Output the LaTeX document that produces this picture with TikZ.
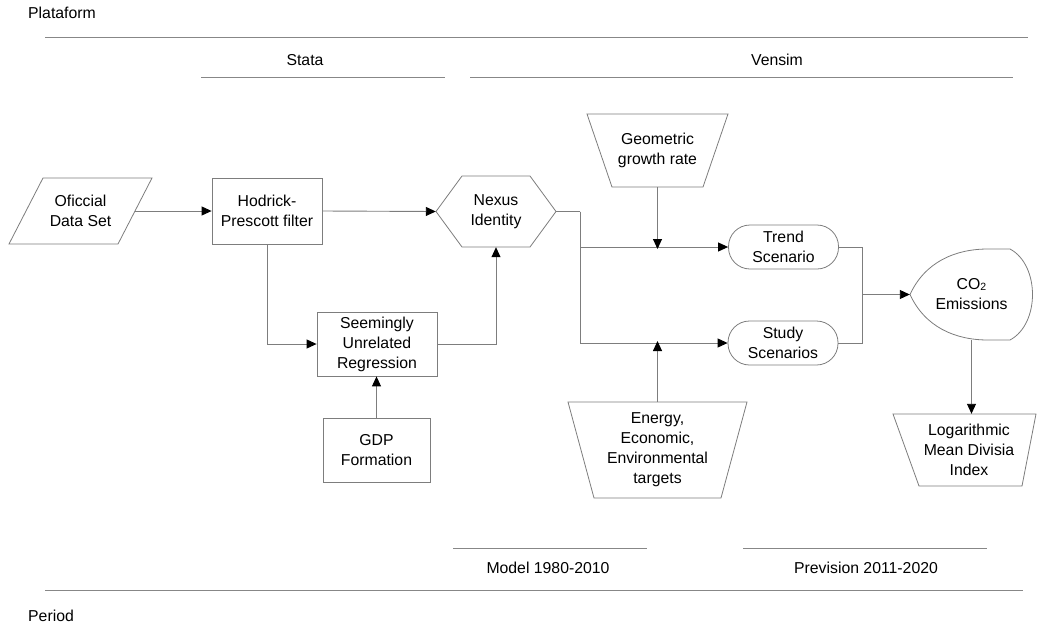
\documentclass[tikz,border=0pt]{standalone}
\usepackage{fontspec}
\setmainfont{Liberation Sans}
\usetikzlibrary{arrows.meta,calc}
\definecolor{linegray}{RGB}{125,125,125}
\definecolor{sectgray}{RGB}{135,135,135}
\begin{document}
\begin{tikzpicture}[x=1pt,y=-1pt,
  shapeline/.style={draw=linegray, line width=0.8pt},
  conn/.style={draw=linegray, line width=0.9pt},
  arr/.style={conn,-{Triangle[length=10pt,width=9pt,color=black]}},
  box/.style={inner sep=0pt, align=center, font=\fontsize{15.8}{20}\selectfont},
  rectbox/.style={box, shapeline},
  stadium/.style={box, shapeline, rounded corners=21.5pt},
  lbl/.style={inner sep=0pt, font=\fontsize{15.8}{20}\selectfont},
  sect/.style={draw=sectgray, line width=1pt}
]
\useasboundingbox (0,0) rectangle (1037,627);

% header / footer
\node[lbl, anchor=west] (plat) at (28,13) {Plataform};
\draw[sect] (45,37) -- (1028,37);
\node[lbl] (stata) at (305,60) {Stata};
\draw[sect] (201,77) -- (445,77);
\node[lbl] (vensim) at (777,60) {Vensim};
\draw[sect] (470,77) -- (1013,77);
\draw[sect] (453,548) -- (647,548);
\node[lbl] (model) at (548,568) {Model 1980-2010};
\draw[sect] (743,548) -- (987,548);
\node[lbl] (prev) at (866,568) {Prevision 2011-2020};
\draw[sect] (45,590) -- (1023,590);
\node[lbl, anchor=west] (period) at (28,616) {Period};

% nodes
\node[box, minimum width=143pt, minimum height=66pt] (ofi) at (80.5,211) {Oficcial\\Data Set};
\draw[shapeline] (43,178) -- (152,178) -- (118,244) -- (9,244) -- cycle;

\node[rectbox, minimum width=110pt, minimum height=66pt] (hp) at (267,211) {Hodrick-\\Prescott filter};

\node[box, minimum width=120pt, minimum height=71pt] (nex) at (496,211.5) {Nexus\\Identity};
\draw[shapeline] (436,211.5) -- (462,176) -- (530,176) -- (556,211.5) -- (530,247) -- (462,247) -- cycle;

\node[rectbox, minimum width=120pt, minimum height=64pt] (sur) at (377,344) {Seemingly\\Unrelated\\Regression};

\node[rectbox, minimum width=107pt, minimum height=64pt] (gdp) at (376.5,450) {GDP\\Formation};

\node[box, minimum width=141pt, minimum height=73pt] (geo) at (657.5,150.5) {Geometric\\growth rate};
\draw[shapeline] (587,114) -- (728,114) -- (703,187) -- (612,187) -- cycle;

\node[box, minimum width=179pt, minimum height=96pt] (en) at (657.5,450) {Energy,\\Economic,\\Environmental\\targets};
\draw[shapeline] (568,402) -- (747,402) -- (721,498) -- (594,498) -- cycle;

\node[stadium, minimum width=110pt, minimum height=44pt] (trend) at (783.5,247) {Trend\\Scenario};
\node[stadium, minimum width=110pt, minimum height=44pt] (study) at (783,343) {Study\\Scenarios};

\node[box, minimum width=123pt, minimum height=91pt] (co2) at (971.5,294.5) {CO\raisebox{-0.5pt}{\fontsize{10.5}{10}\selectfont 2}\\Emissions};
\draw[shapeline] (910,294.5) .. controls (925,262) and (955,249) .. (988,249) -- (1010,249)
  .. controls (1040,265) and (1040,324) .. (1010,340) -- (988,340)
  .. controls (955,340) and (925,327) .. (910,294.5);

\node[box, minimum width=143pt, minimum height=72pt] (lmdi) at (969,450) {Logarithmic\\Mean Divisia\\Index};
\draw[shapeline] (893,414) -- (1036,414) -- (1022,486) -- (919,486) -- cycle;

% connectors
\draw[arr] ([xshift=-17pt]ofi.east) -- (hp.west);
\draw[arr] (hp.east) -- (nex.west);
\draw[arr] (hp.south) |- (sur.west);
\draw[arr] (sur.east) -| (nex.south);
\draw[arr] (gdp.north) -- (gdp.north |- sur.south);
\coordinate (split) at ($(nex.east)+(24,0)$);
\draw[conn] (nex.east) -- (split);
\draw[arr] (split) |- (trend.west);
\draw[arr] (split) |- (study.west);
\draw[arr] (geo.south) -- ([yshift=-2pt]geo.south |- trend.west);
\draw[arr] (en.north) -- ([yshift=2pt]en.north |- study.west);
\coordinate (join) at ($(co2.west)+(-47,0)$);
\draw[conn] (trend.east) -| (join);
\draw[conn] (study.east) -| (join);
\draw[arr] (join) -- (co2.west);
\draw[arr] (co2.south) -- (co2.south |- lmdi.north);
\end{tikzpicture}
\end{document}
